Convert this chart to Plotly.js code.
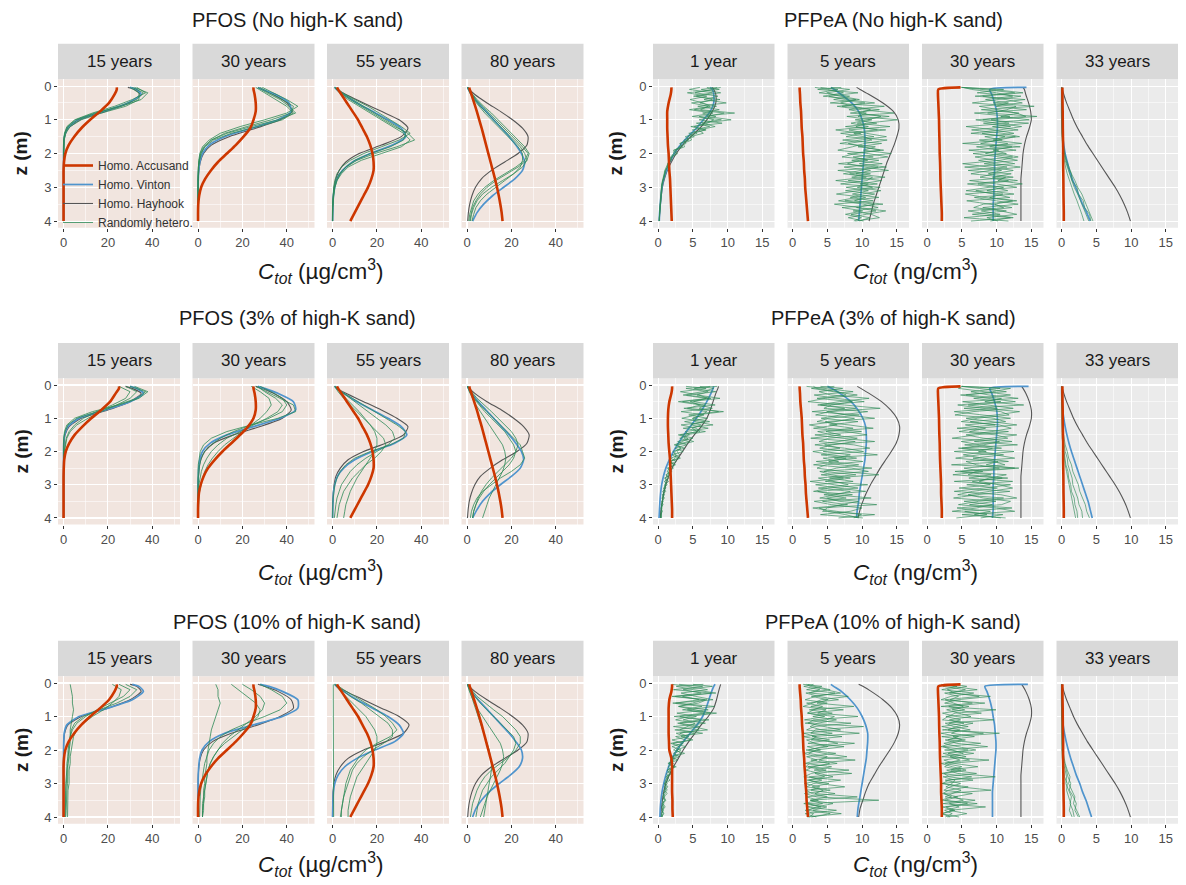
<!DOCTYPE html>
<html>
<head>
<meta charset="utf-8">
<script src="https://cdn.plot.ly/plotly-3.0.1.min.js"></script>
<style>
  html, body { margin: 0; padding: 0; background: #ffffff; }
  #chart { width: 1186px; height: 885px; }
</style>
</head>
<body>
<div id="chart"></div>
<script>
// Depth grids (m) for the homogeneous profiles and the heterogeneous realisations
const depthProfile = [0.04,0.1,0.25,0.5,0.75,1,1.25,1.5,1.75,2,2.25,2.5,2.75,3,3.25,3.5,3.75,4];
const depthHetero = [0.04,0.2,0.4,0.6,0.8,1,1.2,1.4,1.6,1.8,2,2.2,2.4,2.6,2.8,3,3.2,3.4,3.6,3.8,4];
const depthHeteroFine = [0.04,
  0.1,0.2,0.3,0.4,0.5,0.6,0.7,0.8,0.9,1.0,
  1.1,1.2,1.3,1.4,1.5,1.6,1.7,1.8,1.9,2.0,
  2.1,2.2,2.3,2.4,2.5,2.6,2.7,2.8,2.9,3.0,
  3.1,3.2,3.3,3.4,3.5,3.6,3.7,3.8,3.9,4.0];

const pfosTimes = ['15 years', '30 years', '55 years', '80 years'];
const pfpeaTimes = ['1 year', '5 years', '30 years', '33 years'];
const scenarioLabels = ['No high-K sand', '3% of high-K sand', '10% of high-K sand'];
const pfosXTicks = [0, 20, 40];
const pfosXMinor = [10, 30, 50];
const pfpeaXTicks = [0, 5, 10, 15];
const pfpeaXMinor = [2.5, 7.5, 12.5];
const depthTicks = [0, 1, 2, 3, 4];
const depthMinor = [0.5, 1.5, 2.5, 3.5];
const seriesNames = ['Homo. Accusand', 'Homo. Vinton', 'Homo. Hayhook', 'Randomly hetero.'];

// ---------------- PFOS, no high-K sand (15, 30, 55, 80 years) ----------------
const pfosNoneAccusand = [
  [24,24,23,20.5,16.5,12,8,4.8,2.3,0.8,0.2,0,0,0,0,0,0,0],
  [25,25,25.5,26,26,25,23.5,20.5,17,13,9,5.8,3.2,1.4,0.5,0.1,0,0],
  [2,2.5,4,6.5,9,11.5,13.5,15.5,17,18,18.5,18.5,17.5,16,14,12,10,8],
  [1,1.2,2,3.2,4.4,5.5,6.6,7.6,8.6,9.6,10.6,11.6,12.6,13.5,14.3,15,15.6,16]
];
const pfosNoneVinton = [
  [30,33,35,29,18,6.5,1.8,0.4,0.1,0,0,0,0,0,0,0,0,0],
  [27,29,35,41,42,36,24,12,5,2,0.8,0.3,0.1,0,0,0,0,0],
  [1,1.8,5,11,18,25,31,33,27,17,9,4.5,2,1,0.4,0.2,0.1,0],
  [0.2,0.6,2,5,8.5,12,15.5,19,22,24.5,26,25,21.5,16.5,11.5,7.5,4.5,2.5]
];
const pfosNoneHayhook = [
  [29,32,34.5,29.5,19,7.5,2.2,0.5,0.1,0,0,0,0,0,0,0,0,0],
  [27,29,34,40,42.5,37,26,14,6,2.5,1,0.4,0.1,0,0,0,0,0],
  [1,2,6,14,22,30,34,31,22,12,6,3,1.5,0.7,0.3,0.1,0,0],
  [0.3,1,3.5,9,15,20.5,25,27.5,27,23,17,11,6.5,3.8,2.2,1.2,0.6,0.3]
];
const pfosNoneHetero = [
  [[31,36,33,25,15,6.5,2.2,0.7,0.2,0,0,0,0,0,0,0,0,0,0,0,0],
   [32,38,35,26,14,5.5,1.8,0.5,0.1,0,0,0,0,0,0,0,0,0,0,0,0],
   [30,34,34,28,17,8,3,1,0.3,0.1,0,0,0,0,0,0,0,0,0,0,0],
   [33,37,31,23,13,5,1.5,0.4,0.1,0,0,0,0,0,0,0,0,0,0,0,0]],
  [[28,32,38,43,42,33,22,12,6,3,1.5,0.7,0.3,0.1,0,0,0,0,0,0,0],
   [27,31,37,41,44,36,24,13,6,2.5,1,0.4,0.1,0,0,0,0,0,0,0,0],
   [29,34,40,45,40,30,19,10,5,2,0.8,0.3,0.1,0,0,0,0,0,0,0,0],
   [26,30,35,40,43,38,27,15,7,3,1.2,0.5,0.2,0,0,0,0,0,0,0,0]],
  [[1,4,9,14,19,24,29,33,32,26,17,10,6,3.5,2,1,0.5,0.3,0.1,0,0],
   [1,3.5,8,13,18,23,28,34,37,29,19,11,6,3,1.5,0.8,0.4,0.2,0.1,0,0],
   [1.5,4.5,10,16,21,26,31,35,30,22,14,8,4,2,1,0.5,0.2,0.1,0,0,0],
   [1,3,7,12,17,22,27,32,35,31,22,13,7,4,2,1,0.5,0.2,0.1,0,0]],
  [[0.3,1.5,3.5,6,9,12,15,18,21,24,26,27,25,21,16,11,7,4.5,3,2,1.5],
   [0.5,2,4.5,7.5,11,14,17,20,23,26,28,27,23,18,13,9,6,4,2.5,1.8,1.2],
   [0.2,1.2,3,5.5,8,11,14,17,20,23,25,25,24,21,17,13,9,6,4,3,2.2],
   [0.4,1.8,4,7,10,13,16,19,22,25,27.5,26,22,17,12,8,5,3,2,1.2,0.8]]
];

// ---------------- PFOS, 3% of high-K sand ----------------
const pfos3Accusand = [
  [25,25,23.5,21,17,12.5,8.5,5,2.6,1,0.3,0.1,0,0,0,0,0,0],
  [25,25,25.5,26,26,25,22.5,19,15,11,7.5,4.5,2.5,1.2,0.4,0.1,0,0],
  [2,2.5,4,6.5,9,11.5,13.5,15.5,17,18,18.5,18.5,17.5,16,14,12,10,8],
  [1,1.2,2,3.2,4.4,5.5,6.6,7.6,8.6,9.6,10.6,11.6,12.6,13.5,14.3,15,15.6,16]
];
const pfos3Vinton = [
  [30,33,36,30,19,7,2,0.5,0.1,0,0,0,0,0,0,0,0,0],
  [27,30,36,43,44,37,25,13,5.5,2,0.8,0.3,0.1,0,0,0,0,0],
  [1,1.8,5,11,18,25,31,33.5,28,18,10,5,2.2,1,0.4,0.2,0.1,0],
  [0.2,0.6,2,5,8.5,12,15.5,19,22,24.5,25.5,24,20,15,10.5,7,4.5,2.5]
];
const pfos3Hayhook = [
  [28,31,35,30,20,8,2.5,0.7,0.2,0,0,0,0,0,0,0,0,0],
  [26,29,34,40,42,38,28,16,7,3,1.2,0.5,0.2,0,0,0,0,0],
  [1,2,6,14,22,29,34,32,24,14,7,3.5,1.5,0.7,0.3,0.1,0,0],
  [0.3,1,3.5,9,15.5,21,25.5,28,27,22.5,16,10.5,6,3.5,2,1,0.5,0.2]
];
const pfos3Hetero = [
  [[25,30,28,22,15,9,5,2.5,1.2,0.6,0.3,0.1,0,0,0,0,0,0,0,0,0],
   [30,37,33,24,14,6,2,0.7,0.2,0,0,0,0,0,0,0,0,0,0,0,0],
   [28,33,30,24,17,11,6,3,1.5,0.8,0.4,0.2,0.1,0,0,0,0,0,0,0,0],
   [32,38,34,25,13,5,1.5,0.4,0.1,0,0,0,0,0,0,0,0,0,0,0,0]],
  [[28,33,38,40,38,32,24,16,10,6,3,1.5,0.7,0.3,0.1,0,0,0,0,0,0],
   [26,31,37,43,44,36,24,13,6,2.5,1,0.4,0.1,0,0,0,0,0,0,0,0],
   [24,28,32,33,31,28,24,20,16,12,9,6.5,4.5,3,2,1.2,0.7,0.4,0.2,0.1,0],
   [27,30,35,38,36,31,25,19,13,9,6,4,2.5,1.5,0.8,0.4,0.2,0.1,0,0,0]],
  [[1,4,9,14,19,24,29,33,32,26,17,10,6,3.5,2,1,0.5,0.3,0.1,0,0],
   [1,3,6,9,12,14.5,17,19,20,20,19,17,15,13,11,9.5,8,7,6,5.5,5],
   [1.5,4,8,12,16,20,24,27,28,25,20,15,11,8,6,4,3,2,1.5,1,0.8],
   [1,2.5,5,8,11,14,17,20,23,24,22,19,15,12,9,7,5,4,3,2.5,2]],
  [[0.3,1.5,3.5,6,9,12,15,18,21,24,25,26,24,20,15,11,7,4.5,3,2,1.5],
   [0.3,1,2.5,4,6,8,10,12,14,16,17,17.5,17,16,14.5,13,11.5,10,9,8,7],
   [0.2,1.2,3,5.5,8,11,14,17,19,21,22,21,19,16,13,10,7.5,5.5,4,3,2.5],
   [0.4,2,4.5,8,11,14,17,20,22,23,22,20,17,14,11,8.5,6.5,5,4,3,2.5]]
];

// ---------------- PFOS, 10% of high-K sand ----------------
const pfos10Accusand = [
  [24,24,23,20.5,16.5,12,8,4.8,2.3,0.8,0.2,0,0,0,0,0,0,0],
  [25,25,25.5,26,26,25,23.5,20.5,17,13,9,5.8,3.2,1.4,0.5,0.1,0,0],
  [2,2.5,4,6.5,9,11.5,13.5,15.5,17,18,18.5,18.5,17.5,16,14,12,10,8],
  [1,1.2,2,3.2,4.4,5.5,6.6,7.6,8.6,9.6,10.6,11.6,12.6,13.5,14.3,15,15.6,16]
];
const pfos10Vinton = [
  [31,34,36,31,20,7,1.5,0.3,0.1,0,0,0,0,0,0,0,0,0],
  [28,32,38,45,45,38,25,12,5,1.8,0.7,0.3,0.1,0,0,0,0,0],
  [1,1.8,5,11,18,25,30,32,28,19,11,5.5,2.5,1,0.4,0.2,0.1,0],
  [0.2,0.6,2,5,8.5,12,15.5,19,22,24.5,25,23.5,19.5,14.5,10,6.5,4,2.5]
];
const pfos10Hayhook = [
  [30,33,35,30,20,8,2,0.5,0.1,0,0,0,0,0,0,0,0,0],
  [27,30,36,42,43,37,27,15,6.5,2.5,1,0.4,0.1,0,0,0,0,0],
  [1,2,6,14,22,30,34.5,32,24,14,7,3.5,1.5,0.6,0.2,0.1,0,0],
  [0.3,1,3.5,9,15,20.5,25,27.5,27,23,17,11,6.5,3.8,2.2,1.2,0.6,0.3]
];
const pfos10Hetero = [
  [[3,3.5,4,4,4.5,4,3.5,3,3,2.5,2.5,2,2,1.5,1.5,1.2,1,1,0.8,0.8,0.7],
   [25,30,27,21,15,10,6,4,3,2.5,2,2,1.5,1.5,1.2,1,1,0.8,0.8,0.7,0.6],
   [28,33,30,24,16,9,5,3.5,3,3,2.5,2.5,2,2,2,1.8,1.5,1.5,1.2,1.2,1],
   [22,26,25,22,18,13,9,6,4.5,4,3.5,3,3,2.5,2.5,2.5,2,2,2,1.8,1.8]],
  [[8,9,9,10,9,8,7,6,5.5,5,4.5,4,4,3.5,3,3,2.5,2.5,2,2,2],
   [20,24,28,30,29,26,22,18,14,11,9,7,5.5,4.5,4,3.5,3,3,2.5,2.5,2],
   [28,33,38,40,37,30,22,15,10,7,5,4,3,2.5,2,1.5,1.2,1,1,0.8,0.7],
   [15,18,22,26,28,27,24,20,16,12,9,7,5.5,4.5,4,3.5,3,2.5,2.5,2,2]],
  [[0.3,0.3,0.4,0.4,0.4,0.5,0.5,0.5,0.5,0.5,0.5,0.5,0.5,0.5,0.5,0.5,0.5,0.5,0.5,0.5,0.5],
   [1,4,8,13,17,21,25,27,27,23,18,14,11,9,8,7,6,5,4.5,4,3.5],
   [1,3,6,9,12,15,17,19,20,20,19,17,15,13,11,10,9,8,7.5,7,7],
   [1.5,5,10,15,20,24,27,29,26,20,15,12,10,8,7,6,5.5,5,4.5,4,4]],
  [[0.3,1,2,3,4,5,6,7,8,9,10,10.5,11,11,10.5,10,9.5,9,8.5,8,7.5],
   [0.3,1.5,3.5,6,9,12,15,18,21,22,21,19,17,14,11,9,7,6,5,4.5,4],
   [0.2,0.8,2,3.5,5,7,9,11,13,15,16,16.5,16,15,13.5,12,10.5,9,8,7,6],
   [0.5,2,4.5,8,12,16,19,22,24,24,22,19,15,11,8,6,4.5,3.5,2.5,2,1.5]]
];

// ---------------- PFPeA, no high-K sand (1, 5, 30, 33 years) ----------------
const pfpeaNoneAccusand = [
  [1.9,1.9,1.8,1.5,1.3,1.3,1.3,1.35,1.4,1.5,1.55,1.6,1.7,1.75,1.8,1.85,1.9,1.95],
  [1.0,1.0,1.05,1.1,1.2,1.25,1.3,1.4,1.45,1.5,1.6,1.65,1.75,1.8,1.9,2.0,2.1,2.2],
  [4.8,1.6,1.55,1.6,1.65,1.7,1.72,1.75,1.78,1.8,1.85,1.88,1.9,1.95,2.0,2.05,2.1,2.1],
  [0.1,0.1,0.1,0.12,0.14,0.15,0.16,0.18,0.2,0.2,0.2,0.22,0.24,0.25,0.26,0.28,0.3,0.3]
];
const pfpeaNoneVinton = [
  [7.5,7.8,8,8,7.5,6.5,5.5,4.3,3.2,2.3,1.7,1.2,0.8,0.55,0.4,0.3,0.2,0.15],
  [5.5,6,7,8.5,9.5,10,10.3,10.4,10.4,10.3,10.2,10.1,10,9.9,9.8,9.7,9.6,9.5],
  [14.3,9.0,9.3,9.7,10,10.1,10.1,10,9.9,9.8,9.7,9.7,9.6,9.6,9.6,9.5,9.5,9.5],
  [0,0,0,0,0,0.02,0.06,0.15,0.3,0.5,0.8,1.1,1.5,2,2.5,3,3.6,4.1]
];
const pfpeaNoneHayhook = [
  [7.8,8,8.3,8.3,7.8,7,6,4.7,3.5,2.6,1.9,1.3,0.9,0.6,0.45,0.32,0.22,0.16],
  [9.2,9.7,11,13,14.5,15.2,15.3,15,14.6,14.1,13.6,13.2,12.8,12.4,12,11.6,11.3,11],
  [13.8,14.0,14.2,14.6,14.9,15.0,14.7,14.3,14.0,13.8,13.7,13.6,13.5,13.5,13.5,13.5,13.5,13.5],
  [0,0.1,0.3,0.7,1.2,1.7,2.3,3,3.7,4.5,5.3,6.1,6.9,7.7,8.4,9,9.5,9.9]
];
const pfpeaNoneHetero = [
  [[8.5,
    6.2,9.0,5.5,7.8,6.0,8.4,5.2,9.5,7.0,10.5,
    6.3,8.2,5.8,6.5,4.6,4.8,3.6,3.8,2.5,2.8,
    2.0,1.9,1.5,1.4,1.1,1.0,0.8,0.7,0.6,0.55,
    0.45,0.4,0.35,0.3,0.3,0.25,0.2,0.2,0.18,0.15],
   [6,
    4.5,7.8,5.1,8.9,4.8,7.2,6.1,11.0,5.9,8.0,
    7.1,5.2,6.9,4.4,5.2,3.7,4.0,3.0,2.6,2.4,
    1.9,1.8,1.4,1.3,1.0,0.9,0.75,0.7,0.55,0.5,
    0.45,0.4,0.35,0.3,0.28,0.24,0.2,0.2,0.17,0.15],
   [9,
    7.4,5.3,8.6,6.6,9.8,5.7,8.8,6.4,8.3,5.9,
    9.2,4.7,6.8,5.0,4.3,4.2,3.2,3.3,2.3,2.2,
    1.8,1.6,1.3,1.2,0.95,0.85,0.7,0.65,0.5,0.45,
    0.4,0.35,0.32,0.3,0.26,0.22,0.2,0.18,0.16,0.15],
   [7,
    8.8,4.2,7.0,4.6,6.4,7.5,4.5,7.9,4.9,9.1,
    5.5,7.4,4.9,5.6,3.9,4.4,3.1,3.5,2.2,2.6,
    1.9,1.7,1.4,1.3,1.05,0.95,0.8,0.7,0.6,0.5,
    0.45,0.4,0.34,0.3,0.27,0.24,0.21,0.19,0.17,0.15]],
  [[4,
    6.5,3.8,8.2,5.9,10.4,7.1,12.5,8.3,13.9,9.0,
    12.1,7.6,13.4,8.8,11.7,7.2,12.8,9.4,13.1,7.9,
    11.6,8.5,12.9,7.4,11.2,9.1,13.3,8.0,12.2,7.7,
    10.9,8.6,12.4,7.5,11.8,9.2,12.0,8.4,11.1,9.6],
   [7,
    3.6,9.4,5.2,7.6,11.8,6.4,9.9,14.6,7.8,11.4,
    9.3,14.0,8.1,10.6,13.5,9.7,6.8,11.9,10.2,14.2,
    8.7,10.8,6.6,12.3,10.0,7.3,11.5,10.7,6.9,12.6,
    9.4,6.3,10.5,8.9,13.0,7.1,10.1,7.6,9.9,8.8],
   [3.2,
    5.1,7.3,4.4,9.1,6.9,8.7,11.2,9.5,12.7,10.8,
    8.4,10.9,6.2,9.8,7.7,13.6,10.4,8.6,6.5,10.9,
    13.7,9.6,7.9,10.3,13.8,8.2,10.6,6.2,10.9,9.3,
    12.7,10.0,8.3,11.6,6.0,9.5,13.4,10.6,8.0,10.2],
   [5.5,
    8.2,4.9,6.8,9.6,5.4,13.2,8.1,10.6,9.4,15.1,
    10.6,9.1,12.2,6.9,10.3,11.4,8.0,10.2,12.6,9.0,
    7.1,12.4,9.6,13.5,6.5,11.2,8.5,12.8,9.7,11.5,
    7.6,11.8,9.1,6.6,10.2,12.3,8.7,11.3,12.5,9.0]],
  [[5,
    8.3,12.6,6.9,14.1,9.5,15.4,7.8,13.2,10.6,14.7,
    8.1,12.0,6.4,10.9,13.3,7.5,11.6,9.0,12.8,6.6,
    10.4,13.0,8.2,11.5,5.9,12.1,9.4,13.0,7.3,11.0,
    8.6,12.5,6.8,10.3,13.1,8.0,11.4,6.5,12.0,9.1],
   [4.8,
    11.0,7.2,13.5,10.1,6.5,12.8,11.5,8.7,15.8,9.2,
    11.8,5.6,9.7,12.5,8.3,10.8,5.1,12.2,9.5,11.4,
    6.9,9.9,12.6,5.4,10.7,8.8,12.4,6.1,10.0,12.9,
    7.0,9.6,11.9,5.7,9.0,12.2,7.8,10.5,5.3,11.7],
   [5.2,
    6.4,10.0,12.3,8.4,11.7,9.9,14.3,6.8,11.9,8.0,
    14.6,9.4,13.1,7.9,11.2,9.5,13.6,7.1,10.3,8.4,
    12.3,7.4,9.8,13.4,9.0,6.3,11.3,10.2,13.7,8.9,
    5.6,10.9,9.0,12.9,8.1,6.7,10.6,12.9,8.6,10.2],
   [5,
    9.5,13.8,8.0,11.3,13.7,7.5,10.4,12.9,14.2,7.0,
    9.9,13.6,10.4,6.3,12.7,10.2,7.7,13.4,6.0,10.6,
    13.1,10.5,5.1,8.9,12.4,9.5,7.6,11.7,5.8,9.7,
    11.6,5.5,8.2,12.3,9.7,11.0,5.9,8.9,12.4,6.3]],
  [[0,0,0,0,0,0,0,0.05,0.1,0.2,0.35,0.6,0.9,1.4,1.5,2.2,2.4,3.1,3.3,4.0,4.2],
   [0,0,0,0,0,0,0.02,0.05,0.12,0.25,0.45,0.7,1.0,1.4,1.9,2.3,2.9,3.3,3.8,4.1,4.5],
   [0,0,0,0,0,0,0,0.03,0.08,0.15,0.3,0.5,0.8,1.1,1.5,1.8,2.3,2.7,3.1,3.6,3.9],
   [0,0,0,0,0,0,0,0,0.05,0.1,0.2,0.35,0.55,0.8,1.1,1.5,1.8,2.2,2.6,2.9,3.2]]
];

// ---------------- PFPeA, 3% of high-K sand ----------------
const pfpea3Accusand = [
  [2.0,2.0,1.9,1.6,1.45,1.4,1.4,1.45,1.5,1.6,1.7,1.75,1.8,1.85,1.9,1.95,2.0,2.0],
  [1.0,1.0,1.05,1.1,1.2,1.3,1.35,1.4,1.5,1.55,1.6,1.7,1.75,1.85,1.9,2.0,2.1,2.2],
  [4.8,1.6,1.55,1.6,1.65,1.7,1.72,1.75,1.8,1.82,1.85,1.9,1.95,2.0,2.0,2.05,2.1,2.1],
  [0.1,0.1,0.1,0.12,0.14,0.15,0.16,0.18,0.2,0.2,0.2,0.22,0.24,0.25,0.26,0.28,0.3,0.3]
];
const pfpea3Vinton = [
  [8.0,7.9,7.6,7.0,6.3,5.5,4.6,3.7,2.9,2.2,1.6,1.1,0.75,0.5,0.35,0.25,0.18,0.12],
  [5.0,5.6,6.8,8.4,9.4,10.1,10.5,10.6,10.6,10.5,10.4,10.2,10.0,9.8,9.6,9.5,9.3,9.2],
  [14.6,9.0,9.3,9.7,10.0,10.1,10.1,10.0,9.9,9.8,9.7,9.6,9.6,9.5,9.5,9.5,9.5,9.4],
  [0,0,0,0.05,0.15,0.3,0.5,0.75,1.05,1.4,1.8,2.2,2.6,3,3.4,3.8,4.1,4.4]
];
const pfpea3Hayhook = [
  [8.7,8.6,8.3,7.9,7.5,7.0,6.2,5.2,4.3,3.5,2.7,2.0,1.5,1.1,0.8,0.6,0.4,0.3],
  [9.3,9.8,11,12.8,14.1,15.0,15.4,15.3,14.9,14.2,13.4,12.6,11.9,11.2,10.6,10.1,9.7,9.4],
  [13.6,13.8,14.2,14.7,15.0,15.0,14.7,14.3,14.0,13.8,13.7,13.6,13.5,13.5,13.5,13.5,13.5,13.5],
  [0,0.1,0.3,0.7,1.2,1.7,2.3,3,3.7,4.5,5.3,6.1,6.9,7.7,8.4,9,9.5,9.9]
];
const pfpea3Hetero = [
  [[7.5,
    5.2,8.3,4.1,7.6,3.5,6.8,5.9,8.7,4.4,7.1,
    3.8,6.2,4.9,5.6,3.2,5.0,2.8,4.1,2.4,3.6,
    2.0,2.9,1.6,2.5,1.3,2.0,1.1,1.6,0.9,1.3,
    0.8,1.1,0.6,0.9,0.5,0.7,0.4,0.6,0.35,0.5],
   [4,
    6.9,3.2,5.8,7.3,2.9,6.1,4.2,9.4,5.5,3.4,
    6.6,4.7,7.2,3.9,4.5,3.1,4.4,2.5,3.3,2.7,
    3.1,1.8,2.6,1.5,2.2,1.4,1.5,1.0,1.3,0.9,
    1.0,0.7,0.8,0.55,0.7,0.45,0.55,0.4,0.45,0.35],
   [6,
    8.0,6.4,3.6,6.9,5.1,8.2,3.7,7.0,6.3,5.0,
    7.4,3.3,5.5,6.0,2.9,4.3,3.5,2.3,3.8,2.1,
    2.6,2.4,1.9,2.0,1.5,1.7,1.2,1.3,1.0,1.1,
    0.8,0.9,0.65,0.75,0.55,0.6,0.45,0.5,0.4,0.4],
   [8.5,
    4.0,7.2,5.6,8.9,4.6,6.0,7.8,3.3,6.6,4.9,
    5.3,7.9,3.6,6.8,4.0,3.7,5.1,2.9,3.2,2.4,
    2.4,3.2,1.7,2.3,1.6,1.3,1.8,0.9,1.5,1.0,
    1.1,0.7,0.9,0.6,0.65,0.5,0.5,0.42,0.4,0.35]],
  [[2,
    4.5,8.7,3.1,6.2,10.3,4.0,7.5,2.8,9.6,5.2,
    3.5,8.1,11.6,4.8,6.9,2.6,9.0,5.7,3.9,7.8,
    12.2,4.4,6.6,3.0,8.5,10.9,4.1,7.3,2.5,6.0,
    9.4,3.6,5.8,11.3,4.3,7.9,2.9,6.3,9.9,8.8],
   [6,
    2.7,5.9,9.3,4.7,2.2,7.4,12.6,5.3,3.3,8.9,
    6.1,2.4,5.0,9.9,3.2,7.1,11.8,4.6,6.8,2.9,
    5.5,9.2,3.4,6.9,11.4,3.9,5.6,8.3,4.7,10.8,
    5.2,3.0,8.6,4.9,6.7,12.1,3.8,5.1,7.6,9.5],
   [4,
    7.2,3.8,5.5,11.0,6.7,3.6,9.1,4.9,7.7,11.8,
    4.7,6.4,3.0,7.8,10.7,5.2,3.8,8.8,11.1,4.4,
    8.3,6.0,10.1,4.8,3.5,7.1,12.4,5.3,8.7,3.3,
    6.4,10.5,4.5,7.7,3.1,5.6,10.0,8.3,4.0,10.1],
   [3,
    3.4,6.6,7.7,3.5,8.6,5.6,4.5,10.8,6.9,4.1,
    9.4,5.3,8.7,3.6,5.6,9.3,6.6,3.2,7.5,10.2,
    4.1,7.7,5.2,9.5,6.3,4.5,9.1,3.7,6.1,8.0,
    3.7,8.3,6.2,3.9,9.5,6.9,5.0,4.3,11.8,6.6]],
  [[5,
    7.6,11.4,4.8,9.2,12.7,5.9,10.1,3.9,8.4,12.0,
    6.2,9.8,4.3,11.7,7.0,3.6,10.4,8.1,5.0,12.5,
    7.4,4.1,9.6,11.2,5.3,8.0,3.7,10.8,6.5,9.1,
    4.6,11.9,7.2,3.8,9.9,6.1,12.2,5.4,8.6,4.2],
   [4.9,
    10.5,6.3,8.9,13.1,5.1,8.7,12.4,6.6,4.0,9.5,
    11.3,5.5,8.4,6.1,12.9,9.3,4.9,7.6,10.7,3.9,
    9.8,12.6,5.6,7.1,10.4,4.0,9.2,6.0,12.3,5.7,
    10.1,6.5,4.4,11.0,5.3,9.4,7.1,3.6,10.9,7.7],
   [5.1,
    4.5,8.2,12.0,6.7,10.6,4.4,7.9,13.3,9.9,5.6,
    8.9,12.9,7.2,4.6,9.9,11.6,6.8,13.0,4.5,8.5,
    5.2,8.0,11.7,3.5,13.2,7.0,5.9,11.6,3.9,12.0,
    8.2,3.9,10.6,12.9,7.4,4.5,10.0,12.6,5.0,11.3],
   [5,
    12.0,9.4,5.6,10.7,8.3,13.9,5.3,10.6,11.8,7.2,
    4.9,10.4,12.1,9.3,5.6,8.1,12.2,5.4,9.4,7.4,
    11.0,6.6,10.2,8.5,12.6,4.8,11.4,8.9,7.5,10.3,
    12.3,9.0,5.9,8.1,12.0,10.7,4.3,9.1,6.8,10.6]],
  [[0,0,0,0,0.02,0.05,0.1,0.2,0.35,0.5,0.8,1.0,1.4,1.6,2.0,2.4,2.6,3.0,3.4,3.6,4.0],
   [0,0,0,0,0,0.02,0.05,0.1,0.2,0.3,0.5,0.8,0.9,1.2,1.5,1.6,2.0,2.3,2.5,2.9,3.0],
   [0,0,0,0,0,0,0.02,0.05,0.1,0.2,0.3,0.5,0.6,0.9,1.0,1.3,1.4,1.8,1.9,2.2,2.3],
   [0,0,0,0,0,0,0,0.03,0.08,0.15,0.25,0.4,0.5,0.7,0.9,1.0,1.3,1.4,1.7,1.9,2.0]]
];

// ---------------- PFPeA, 10% of high-K sand ----------------
const pfpea10Accusand = [
  [2.0,2.0,1.9,1.6,1.5,1.5,1.5,1.5,1.55,1.6,1.9,2.0,2.0,2.0,2.0,2.05,2.05,2.1],
  [1.0,1.0,1.05,1.15,1.2,1.3,1.35,1.45,1.5,1.55,1.65,1.7,1.8,1.85,1.95,2.0,2.1,2.2],
  [4.8,1.6,1.55,1.6,1.65,1.7,1.72,1.75,1.8,1.82,1.85,1.9,1.95,2.0,2.0,2.05,2.1,2.1],
  [0.1,0.1,0.1,0.12,0.14,0.15,0.16,0.18,0.2,0.2,0.2,0.22,0.24,0.25,0.26,0.28,0.3,0.3]
];
const pfpea10Vinton = [
  [8.2,8.0,7.7,7.3,6.9,6.4,5.6,4.6,3.6,2.7,2.0,1.5,1.1,0.8,0.55,0.4,0.3,0.25],
  [5.5,5.9,7.0,8.3,9.3,10.0,10.5,10.8,10.8,10.7,10.6,10.4,10.2,10.0,9.8,9.6,9.4,9.3],
  [14.5,8.3,8.6,9.0,9.3,9.5,9.7,9.8,9.9,9.9,9.8,9.7,9.6,9.5,9.4,9.4,9.4,9.4],
  [0,0,0,0,0.02,0.08,0.2,0.4,0.65,0.95,1.3,1.7,2.1,2.6,3,3.5,3.9,4.3]
];
const pfpea10Hayhook = [
  [9.0,8.9,8.7,8.4,8.0,7.2,6.2,5.3,4.4,3.6,2.9,2.2,1.6,1.1,0.8,0.6,0.45,0.35],
  [9.5,10.1,11.3,13.0,14.3,15.1,15.4,15.2,14.7,14.0,13.2,12.4,11.7,11.0,10.5,10.1,9.7,9.5],
  [13.6,13.8,14.2,14.7,15.0,15.0,14.7,14.3,14.0,13.8,13.7,13.6,13.5,13.5,13.5,13.5,13.5,13.5],
  [0,0.1,0.3,0.7,1.2,1.7,2.3,3,3.7,4.5,5.3,6.1,6.9,7.7,8.4,9,9.5,9.9]
];
const pfpea10Hetero = [
  [[3,
    6.4,2.2,7.6,3.5,5.9,2.5,8.1,4.2,6.6,2.3,
    7.3,3.1,6.0,2.4,5.2,3.3,4.7,2.1,4.0,2.6,
    3.3,1.8,2.8,1.5,2.4,1.6,2.0,1.2,1.7,1.0,
    1.4,0.9,1.3,0.8,1.1,0.7,1.0,0.6,0.8,0.5],
   [6.5,
    2.6,5.1,8.3,2.0,6.7,4.9,3.0,7.2,2.7,5.5,
    3.6,6.8,2.2,5.9,3.1,4.4,2.0,3.6,2.8,2.2,
    3.8,2.1,2.3,1.4,2.1,1.3,1.8,1.1,1.4,0.9,
    1.2,0.8,1.0,0.7,0.9,0.6,0.8,0.55,0.7,0.5],
   [2,
    4.3,7.1,3.3,5.4,7.9,2.1,6.3,3.5,8.4,4.4,
    2.5,5.3,4.2,3.1,6.4,2.5,3.9,3.5,2.0,3.3,
    2.4,2.6,1.7,2.2,1.4,1.9,1.2,1.5,1.0,1.3,
    0.9,1.1,0.7,0.95,0.6,0.8,0.5,0.7,0.45,0.6],
   [5,
    7.8,3.6,6.2,2.4,7.0,5.8,2.9,5.3,7.5,3.1,
    6.1,2.8,4.9,7.1,2.6,3.8,5.0,1.8,3.1,2.9,
    2.2,3.0,1.9,1.7,2.6,1.3,1.6,1.4,1.1,0.9,
    1.0,1.3,0.8,0.7,1.0,0.6,0.65,0.7,0.5,0.45]],
  [[1.5,
    4.2,2.0,6.1,3.3,1.8,5.0,2.6,7.3,2.2,4.6,
    1.7,8.4,3.1,2.0,5.7,1.5,3.8,6.5,2.1,4.0,
    1.6,3.3,9.0,2.4,1.9,4.8,2.7,1.6,6.9,3.0,
    2.0,5.4,1.7,3.5,12.4,2.2,4.1,1.8,3.0,2.4],
   [3,
    1.6,3.9,2.4,8.0,4.1,2.9,1.5,4.8,3.6,9.4,
    3.0,2.2,4.7,6.9,1.6,3.4,2.7,8.9,4.3,2.3,
    6.2,2.0,3.5,1.8,5.6,3.1,8.5,2.4,4.2,1.7,
    3.9,2.6,6.1,2.0,3.7,1.6,4.9,2.9,7.0,2.1],
   [2.2,
    3.1,5.4,1.9,3.7,6.6,2.0,4.3,3.0,2.1,6.0,
    4.9,1.8,10.2,3.3,2.6,7.1,2.0,3.2,5.1,1.9,
    4.5,7.8,2.6,5.3,3.0,1.9,4.0,5.8,2.4,3.8,
    7.5,1.9,2.8,5.0,2.5,4.3,2.0,6.3,1.8,3.4],
   [2,
    2.5,4.8,6.9,2.7,5.1,3.5,8.8,2.4,5.7,2.9,
    6.3,3.6,2.5,4.1,9.6,2.8,5.3,2.2,7.4,3.4,
    2.3,5.0,3.8,6.4,2.2,8.1,3.2,4.6,2.1,5.2,
    2.8,4.4,3.2,9.3,2.6,5.8,3.4,2.2,5.4,2.7]],
  [[2.5,
    4.3,2.1,6.7,3.4,2.0,8.3,3.1,5.4,2.2,4.1,
    9.6,2.6,3.8,6.2,2.0,4.5,3.0,7.7,2.3,3.6,
    5.2,2.1,8.9,3.3,2.5,4.9,2.0,6.4,3.1,2.2,
    4.7,9.2,2.4,3.5,2.0,5.8,2.7,4.0,2.1,3.3],
   [3,
    2.3,5.5,3.2,9.1,4.4,2.5,6.0,3.6,7.8,2.7,
    4.8,3.1,5.9,2.2,10.4,3.7,5.0,2.4,4.4,7.0,
    3.0,5.6,2.4,3.9,7.3,2.8,4.4,9.8,2.6,4.8,
    3.3,2.4,6.5,3.8,5.2,2.3,8.4,3.2,5.7,2.9],
   [2,
    3.6,7.2,2.5,4.5,3.3,6.5,2.0,9.9,4.0,3.0,
    2.2,6.6,4.2,3.0,8.1,2.1,5.5,3.4,2.0,5.9,
    2.3,4.2,6.1,2.0,3.6,5.6,2.4,3.2,6.6,2.1,
    5.9,3.1,2.2,4.4,2.5,7.2,2.2,3.8,2.0,4.6],
   [4,
    5.7,2.9,4.0,7.5,2.6,3.8,5.2,2.8,4.7,6.3,
    3.2,5.3,2.1,4.7,3.5,6.8,2.6,4.2,8.7,2.5,
    6.7,3.3,4.7,2.6,5.0,3.4,7.1,2.3,4.0,3.6,
    2.7,4.9,3.6,2.6,6.9,3.2,4.6,2.5,3.6,2.6]],
  [[0,0,0,0,0,0,0,0,0.02,0.05,0.1,0.2,0.4,0.6,0.9,1.3,1.1,1.7,2.1,1.9,2.4],
   [0,0,0,0,0,0,0,0,0,0.02,0.05,0.12,0.25,0.5,0.7,0.6,1.0,1.4,1.2,1.6,1.8],
   [0,0,0,0,0,0,0,0,0,0,0.02,0.06,0.15,0.3,0.4,0.8,0.7,1.0,1.3,1.1,1.5],
   [0,0,0,0,0,0,0,0,0.03,0.08,0.15,0.3,0.5,0.8,1.2,1.0,1.5,1.9,1.7,2.2,2.6]]
];

// ---------------- figure assembly ----------------
const W = 1186, H = 885;
const fx = p => p / W;
const fy = p => 1 - p / H;
const FONT = 'Liberation Sans, Arial, Helvetica, sans-serif';
const COLORS = { acc: '#CD3700', vin: '#4F94CD', hay: '#555555', het: '#2E8B57' };

const blocks = [
  { chem: 'PFOS', unit: 'µg/cm', lefts: [58, 192.5, 327, 461.5], width: 122, range: [-2.5, 52.5],
    ticks: pfosXTicks, minor: pfosXMinor, bg: '#F1E5DF', times: pfosTimes, titleX: 297, hetWidth: 1.0 },
  { chem: 'PFPeA', unit: 'ng/cm', lefts: [653, 787.5, 922, 1056.5], width: 121.5, range: [-0.75, 16.75],
    ticks: pfpeaXTicks, minor: pfpeaXMinor, bg: '#EBEBEB', times: pfpeaTimes, titleX: 893, hetWidth: 0.8 }
];
const rows = [
  { top: 79.3, bottom: 227.8, title: 20, xtitle: 272 },
  { top: 378.4, bottom: 524.6, title: 318, xtitle: 572 },
  { top: 676.3, bottom: 823.7, title: 622, xtitle: 864 }
];
const panelData = [
  [[pfosNoneAccusand, pfosNoneVinton, pfosNoneHayhook, pfosNoneHetero],
   [pfpeaNoneAccusand, pfpeaNoneVinton, pfpeaNoneHayhook, pfpeaNoneHetero]],
  [[pfos3Accusand, pfos3Vinton, pfos3Hayhook, pfos3Hetero],
   [pfpea3Accusand, pfpea3Vinton, pfpea3Hayhook, pfpea3Hetero]],
  [[pfos10Accusand, pfos10Vinton, pfos10Hayhook, pfos10Hetero],
   [pfpea10Accusand, pfpea10Vinton, pfpea10Hayhook, pfpea10Hetero]]
];

const depthFor = v => v.length === depthHeteroFine.length ? depthHeteroFine
  : v.length === depthHetero.length ? depthHetero : depthProfile;

const traces = [];
const layout = {
  width: W, height: H,
  margin: { l: 0, r: 0, t: 0, b: 0 },
  paper_bgcolor: '#ffffff',
  plot_bgcolor: 'rgba(0,0,0,0)',
  font: { family: FONT, size: 12, color: '#1A1A1A' },
  showlegend: true,
  legend: {
    x: fx(58), xanchor: 'left', y: fy(151), yanchor: 'top',
    bgcolor: 'rgba(0,0,0,0)', borderwidth: 0,
    font: { family: FONT, size: 12, color: '#333333' },
    itemwidth: 30, tracegroupgap: 0, traceorder: 'normal'
  },
  shapes: [],
  annotations: []
};

let n = 0;
rows.forEach((row, r) => {
  blocks.forEach((blk, b) => {
    const [accSet, vinSet, haySet, hetSet] = panelData[r][b];
    blk.lefts.forEach((left, c) => {
      n += 1;
      const xa = 'x' + (n === 1 ? '' : n);
      const ya = 'y' + (n === 1 ? '' : n);
      const first = n === 1;

      layout['xaxis' + (n === 1 ? '' : n)] = {
        domain: [fx(left), fx(left + blk.width)], anchor: ya,
        range: blk.range, fixedrange: true,
        tickmode: 'array', tickvals: blk.ticks, ticktext: blk.ticks.map(String),
        ticks: 'outside', ticklen: 3, tickwidth: 1, tickcolor: '#333333',
        tickfont: { family: FONT, size: 13, color: '#4D4D4D' },
        showgrid: true, gridcolor: '#FFFFFF', gridwidth: 1.1,
        minor: { tickmode: 'array', tickvals: blk.minor, showgrid: true, gridcolor: '#FFFFFF', gridwidth: 0.55, ticks: '' },
        zeroline: false, showline: false
      };
      layout['yaxis' + (n === 1 ? '' : n)] = {
        domain: [fy(row.bottom), fy(row.top)], anchor: xa,
        range: [4.2, -0.2], fixedrange: true,
        tickmode: 'array', tickvals: depthTicks, ticktext: depthTicks.map(String),
        ticks: c === 0 ? 'outside' : '', ticklen: 3, tickwidth: 1, tickcolor: '#333333',
        showticklabels: c === 0,
        tickfont: { family: FONT, size: 13, color: '#4D4D4D' },
        showgrid: true, gridcolor: '#FFFFFF', gridwidth: 1.1,
        minor: { tickmode: 'array', tickvals: depthMinor, showgrid: true, gridcolor: '#FFFFFF', gridwidth: 0.55, ticks: '' },
        zeroline: false, showline: false
      };

      // panel background and facet strip
      layout.shapes.push({
        type: 'rect', xref: 'paper', yref: 'paper', layer: 'below',
        x0: fx(left), x1: fx(left + blk.width), y0: fy(row.bottom), y1: fy(row.top),
        fillcolor: blk.bg, line: { width: 0 }
      });
      layout.shapes.push({
        type: 'rect', xref: 'paper', yref: 'paper', layer: 'below',
        x0: fx(left), x1: fx(left + blk.width), y0: fy(row.top), y1: fy(row.top - 35.5),
        fillcolor: '#D9D9D9', line: { width: 0 }
      });
      layout.annotations.push({
        xref: 'paper', yref: 'paper', x: fx(left + blk.width / 2), y: fy(row.top - 17.5),
        text: blk.times[c], showarrow: false, xanchor: 'center', yanchor: 'middle',
        font: { family: FONT, size: 17, color: '#1A1A1A' }
      });

      // homogeneous Hayhook and Vinton beneath the realisations, Accusand on top
      traces.push({
        type: 'scatter', mode: 'lines', x: haySet[c], y: depthFor(haySet[c]), xaxis: xa, yaxis: ya,
        line: { color: COLORS.hay, width: 1.1, shape: 'spline', smoothing: 0.6 },
        name: seriesNames[2], legendgroup: 'hay', legendrank: 3, showlegend: first, hoverinfo: 'skip'
      });
      traces.push({
        type: 'scatter', mode: 'lines', x: vinSet[c], y: depthFor(vinSet[c]), xaxis: xa, yaxis: ya,
        line: { color: COLORS.vin, width: 1.7, shape: 'spline', smoothing: 0.6 },
        name: seriesNames[1], legendgroup: 'vin', legendrank: 2, showlegend: first, hoverinfo: 'skip'
      });
      hetSet[c].forEach((h, i) => {
        traces.push({
          type: 'scatter', mode: 'lines', x: h, y: depthFor(h), xaxis: xa, yaxis: ya,
          line: { color: COLORS.het, width: blk.hetWidth }, opacity: 0.8,
          name: seriesNames[3], legendgroup: 'het', legendrank: 4, showlegend: first && i === 0, hoverinfo: 'skip'
        });
      });
      traces.push({
        type: 'scatter', mode: 'lines', x: accSet[c], y: depthFor(accSet[c]), xaxis: xa, yaxis: ya,
        line: { color: COLORS.acc, width: 2.6, shape: 'spline', smoothing: 0.6 },
        name: seriesNames[0], legendgroup: 'acc', legendrank: 1, showlegend: first, hoverinfo: 'skip'
      });
    });

    // block title, shared concentration axis title and depth axis title
    const blockLeft = blk.lefts[0];
    const blockRight = blk.lefts[3] + blk.width;
    const mid = (blockLeft + blockRight) / 2;
    layout.annotations.push({
      xref: 'paper', yref: 'paper', x: fx(blk.titleX), y: fy(row.title),
      text: blk.chem + ' (' + scenarioLabels[r] + ')', showarrow: false,
      xanchor: 'center', yanchor: 'middle',
      font: { family: FONT, size: 20, color: '#1A1A1A' }
    });
    layout.annotations.push({
      xref: 'paper', yref: 'paper', x: fx(mid), y: fy(row.xtitle),
      text: '<i>C</i><sub><i>tot</i></sub> (' + blk.unit + '<sup>3</sup>)', showarrow: false,
      xanchor: 'center', yanchor: 'middle',
      font: { family: FONT, size: 22.5, color: '#1A1A1A' }
    });
    layout.annotations.push({
      xref: 'paper', yref: 'paper', x: fx(blockLeft - 37), y: fy((row.top + row.bottom) / 2),
      text: '<b>z (m)</b>', showarrow: false, textangle: -90,
      xanchor: 'center', yanchor: 'middle',
      font: { family: FONT, size: 19, color: '#1A1A1A' }
    });
  });
});

Plotly.newPlot('chart', traces, layout, { staticPlot: true, displayModeBar: false });
</script>
</body>
</html>
